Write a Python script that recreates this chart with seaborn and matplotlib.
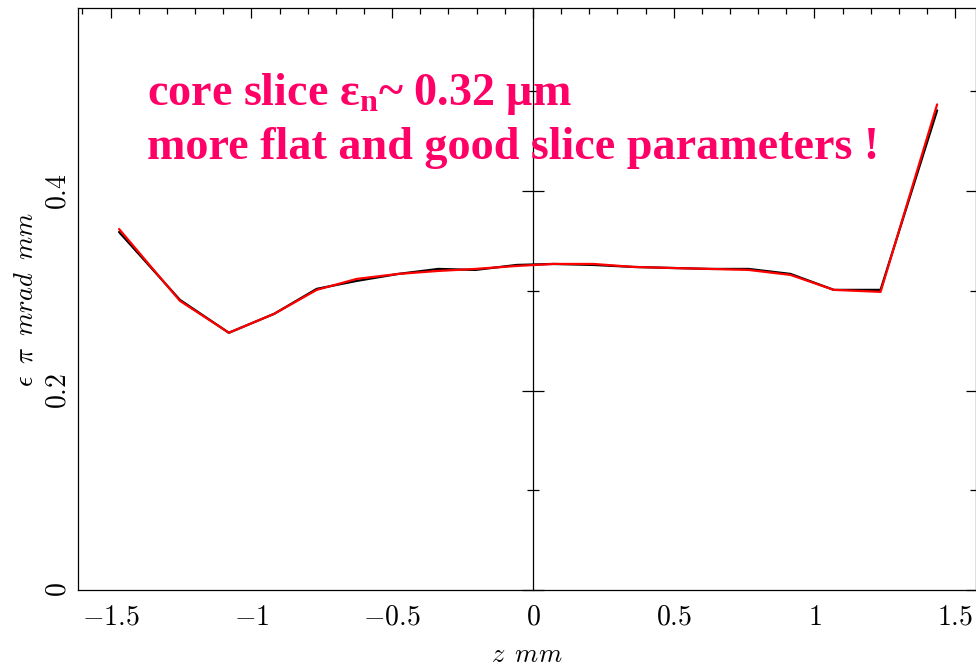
import matplotlib
matplotlib.use("Agg")
import matplotlib.pyplot as plt
from matplotlib.ticker import MultipleLocator, FuncFormatter
import seaborn as sns
import pandas as pd

# ---- data ----
z_mm = [-1.470, -1.254, -1.080, -0.919, -0.768, -0.626, -0.478, -0.336, -0.205, -0.057,
        0.073, 0.215, 0.358, 0.488, 0.630, 0.766, 0.915, 1.069, 1.235, 1.436]
emit_black = [0.359, 0.291, 0.258, 0.277, 0.302, 0.310, 0.317, 0.322, 0.321, 0.326,
              0.327, 0.326, 0.324, 0.323, 0.322, 0.322, 0.317, 0.301, 0.301, 0.481]
emit_red = [0.362, 0.290, 0.258, 0.277, 0.301, 0.312, 0.317, 0.320, 0.322, 0.325,
            0.327, 0.327, 0.324, 0.323, 0.322, 0.321, 0.316, 0.301, 0.299, 0.487]
series_names = ["black", "red"]
x_label = r"$z\enspace mm$"
y_label = r"$\epsilon\;\;\pi\;\;mrad\;\;mm$"
note_line1 = r"core slice ε$_\mathbf{n}$~ 0.32 μm"
note_line2 = "more flat and good slice parameters !"

df = pd.concat([
    pd.DataFrame({"z": z_mm, "emit": emit_black, "series": series_names[0]}),
    pd.DataFrame({"z": z_mm, "emit": emit_red, "series": series_names[1]}),
], ignore_index=True)

sns.set_style("white")
plt.rcParams["mathtext.fontset"] = "cm"
plt.rcParams["mathtext.rm"] = "Liberation Serif:bold"
plt.rcParams["mathtext.bf"] = "Liberation Serif:bold"
plt.rcParams["mathtext.it"] = "Liberation Serif:bold"

fig = plt.figure(figsize=(9.76, 6.67), dpi=100)
ax = fig.add_axes([0.0802, 0.1154, 0.9195, 0.8722])

sns.lineplot(data=df, x="z", y="emit", hue="series", hue_order=series_names,
             palette={"black": "black", "red": "#ff0000"}, sort=False,
             estimator=None, legend=False, linewidth=1.6, ax=ax)

ax.set_xlim(-1.615, 1.573)
ax.set_ylim(0, 0.5834)

ax.xaxis.set_major_locator(MultipleLocator(0.5))
ax.xaxis.set_minor_locator(MultipleLocator(0.1))
ax.yaxis.set_major_locator(MultipleLocator(0.2))
ax.yaxis.set_minor_locator(MultipleLocator(0.1))
fmt = FuncFormatter(lambda v, p: "$%g$" % (round(v, 3) + 0.0))
ax.xaxis.set_major_formatter(fmt)
ax.yaxis.set_major_formatter(fmt)

ax.tick_params(which="both", direction="in", top=True, right=True,
               color="black", width=0.9, labelsize=20, labelcolor="black")
ax.tick_params(which="major", length=7.5)
ax.tick_params(which="minor", length=4)
ax.tick_params(axis="x", which="major", pad=9)
ax.tick_params(axis="y", which="major", pad=5, labelrotation=90)
for lab in ax.get_yticklabels():
    lab.set_va("center")

for sp in ax.spines.values():
    sp.set_color("black")
    sp.set_linewidth(0.9)

# vertical axis line at z = 0 with ticks crossing it
sec = ax.secondary_yaxis(0, transform=ax.transData)
sec.yaxis.set_major_locator(MultipleLocator(0.2))
sec.yaxis.set_minor_locator(MultipleLocator(0.1))
sec.tick_params(which="both", direction="inout", labelleft=False, labelright=False,
                color="black", width=0.9)
sec.tick_params(which="major", length=15.5)
sec.tick_params(which="minor", length=8)
for sp in sec.spines.values():
    sp.set_color("black")
    sp.set_linewidth(0.9)

ax.set_xlabel(x_label, fontsize=19, color="black", va="center")
ax.set_ylabel(y_label, fontsize=19, color="black", va="center")
ax.xaxis.set_label_coords(0.5, -0.112)
ax.yaxis.set_label_coords(-0.059, 0.5)

pink = "#ff0066"
ax.text(147 / 976, (667 - 105) / 667, note_line1, transform=fig.transFigure,
        fontsize=33.2, fontweight="bold", family="Liberation Serif", color=pink,
        va="baseline", ha="left", math_fontfamily="custom", zorder=1)
ax.text(147 / 976, (667 - 159) / 667, note_line2, transform=fig.transFigure,
        fontsize=33.2, fontweight="bold", family="Liberation Serif", color=pink,
        va="baseline", ha="left", zorder=1)

fig.savefig("out.png", dpi=100)
